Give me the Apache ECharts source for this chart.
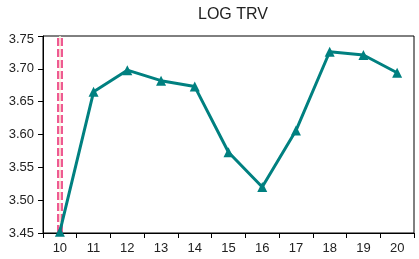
<!DOCTYPE html>
<html><head><meta charset="utf-8">
<script src="https://cdn.jsdelivr.net/npm/echarts@6/dist/echarts.min.js"></script>
<style>html,body{margin:0;padding:0;background:#fff}#c{width:419px;height:259px}</style>
</head><body><div id="c"></div>
<script>
const categories = ['10','11','12','13','14','15','16','17','18','19','20'];
const logTrv = [3.452, 3.665, 3.698, 3.682, 3.673, 3.573, 3.520, 3.606, 3.726, 3.721, 3.694];
const yTicks = [3.45, 3.50, 3.55, 3.60, 3.65, 3.70, 3.75];
const markCategory = '10';

const chart = echarts.init(document.getElementById('c'), null, {renderer:'canvas'});
chart.setOption({
  animation:false,
  backgroundColor:'#fff',
  title:{text:'LOG TRV', left:228, top:2, textAlign:'center',
    textStyle:{fontFamily:'Liberation Sans', fontSize:16, fontWeight:'normal', color:'#222'}},
  grid:{left:43, top:36, right:5, bottom:26, show:true, borderColor:'#000', borderWidth:1, backgroundColor:'transparent'},
  xAxis:{type:'category', data:categories, boundaryGap:true,
    axisLine:{lineStyle:{color:'#000', width:1}},
    axisTick:{show:true, length:5, inside:false, alignWithLabel:false, lineStyle:{color:'#000'}},
    axisLabel:{fontFamily:'Liberation Sans', fontSize:13, color:'#222', margin:9},
    splitLine:{show:false}},
  yAxis:{type:'value', min:yTicks[0], max:yTicks[yTicks.length-1], interval:0.05,
    axisLine:{show:true, lineStyle:{color:'#000', width:1}},
    axisTick:{show:true, length:5, lineStyle:{color:'#000'}},
    axisLabel:{fontFamily:'Liberation Sans', fontSize:13, color:'#222', margin:9,
      formatter:v=>{const s=v.toFixed(2); return Math.abs(v-yTicks[yTicks.length-1])<1e-9 ? '{t|'+s+'}' : s;},
      rich:{t:{fontFamily:'Liberation Sans', fontSize:13, color:'#222', padding:[6,0,0,0]}}},
    splitLine:{show:false}},
  series:[{
    type:'line', data:logTrv, symbol:'triangle', symbolSize:10,
    lineStyle:{color:'#008080', width:3},
    itemStyle:{color:'#008080'},
    z:3,
    markLine:{silent:true, symbol:'none', label:{show:false}, z:2,
      data:[
        {xAxis:markCategory, lineStyle:{color:'#ee5a92', width:6, type:[8,3], opacity:1}},
        {xAxis:markCategory, lineStyle:{color:'#fff8e0', width:1.5, type:'solid', opacity:1}}
      ]}
  }]
});
</script></body></html>
